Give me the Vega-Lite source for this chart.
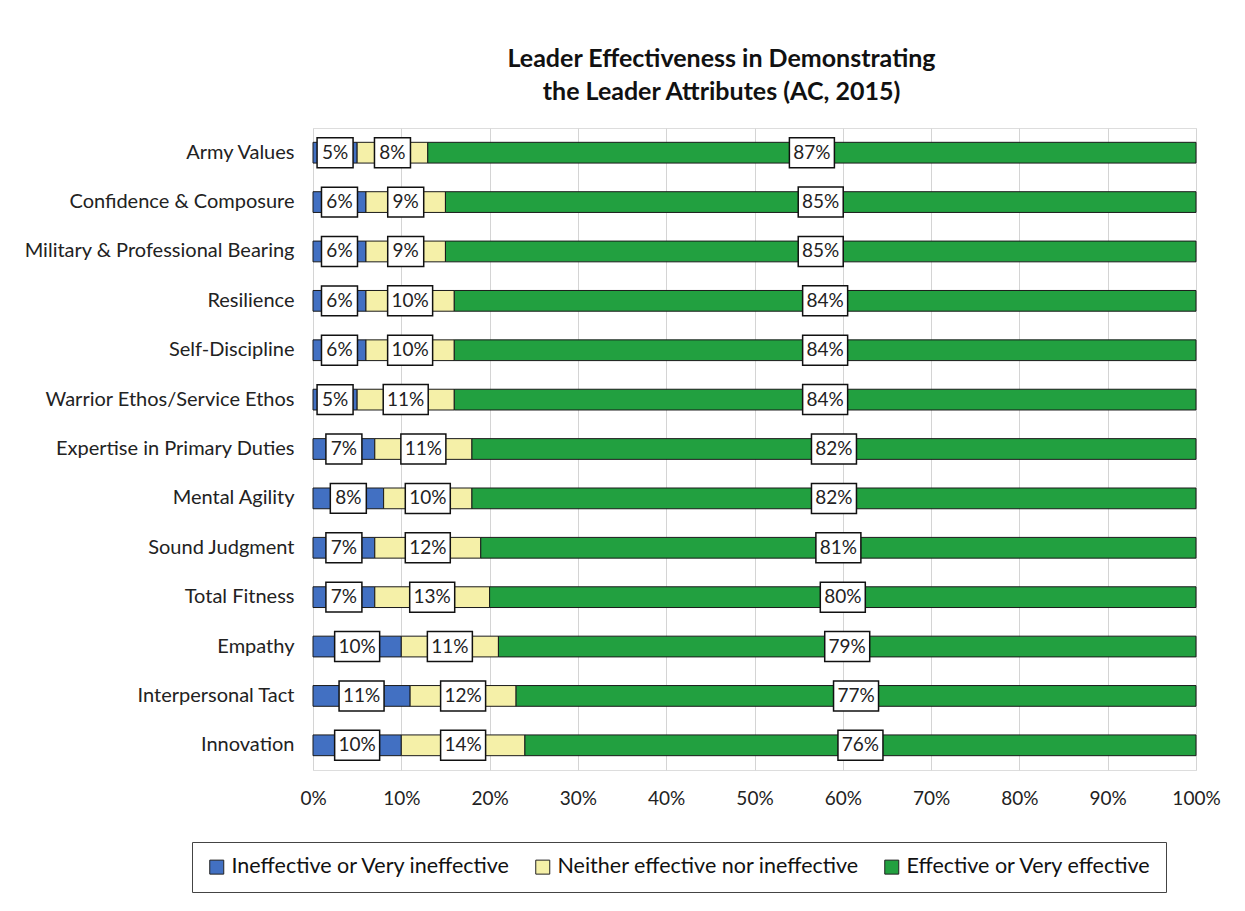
{
  "$schema": "https://vega.github.io/schema/vega-lite/v6.json",
  "width": 883,
  "height": 642,
  "autosize": {"type": "none"},
  "padding": {"left": 313, "top": 128, "right": 49, "bottom": 141},
  "background": "white",
  "title": {
    "text": ["Leader Effectiveness in Demonstrating", "the Leader Attributes (AC, 2015)"],
    "font": "Lato",
    "fontSize": 25,
    "fontWeight": "bold",
    "color": "#111111",
    "lineHeight": 33,
    "anchor": "middle",
    "dx": -33,
    "offset": 23
  },
  "data": {
    "values": [
      {"attr": "Army Values", "resp": "Ineffective or Very ineffective", "level": 1, "pct": 0.05},
      {"attr": "Army Values", "resp": "Neither effective nor ineffective", "level": 2, "pct": 0.08},
      {"attr": "Army Values", "resp": "Effective or Very effective", "level": 3, "pct": 0.87},
      {"attr": "Confidence & Composure", "resp": "Ineffective or Very ineffective", "level": 1, "pct": 0.06},
      {"attr": "Confidence & Composure", "resp": "Neither effective nor ineffective", "level": 2, "pct": 0.09},
      {"attr": "Confidence & Composure", "resp": "Effective or Very effective", "level": 3, "pct": 0.85},
      {"attr": "Military & Professional Bearing", "resp": "Ineffective or Very ineffective", "level": 1, "pct": 0.06},
      {"attr": "Military & Professional Bearing", "resp": "Neither effective nor ineffective", "level": 2, "pct": 0.09},
      {"attr": "Military & Professional Bearing", "resp": "Effective or Very effective", "level": 3, "pct": 0.85},
      {"attr": "Resilience", "resp": "Ineffective or Very ineffective", "level": 1, "pct": 0.06},
      {"attr": "Resilience", "resp": "Neither effective nor ineffective", "level": 2, "pct": 0.10},
      {"attr": "Resilience", "resp": "Effective or Very effective", "level": 3, "pct": 0.84},
      {"attr": "Self-Discipline", "resp": "Ineffective or Very ineffective", "level": 1, "pct": 0.06},
      {"attr": "Self-Discipline", "resp": "Neither effective nor ineffective", "level": 2, "pct": 0.10},
      {"attr": "Self-Discipline", "resp": "Effective or Very effective", "level": 3, "pct": 0.84},
      {"attr": "Warrior Ethos/Service Ethos", "resp": "Ineffective or Very ineffective", "level": 1, "pct": 0.05},
      {"attr": "Warrior Ethos/Service Ethos", "resp": "Neither effective nor ineffective", "level": 2, "pct": 0.11},
      {"attr": "Warrior Ethos/Service Ethos", "resp": "Effective or Very effective", "level": 3, "pct": 0.84},
      {"attr": "Expertise in Primary Duties", "resp": "Ineffective or Very ineffective", "level": 1, "pct": 0.07},
      {"attr": "Expertise in Primary Duties", "resp": "Neither effective nor ineffective", "level": 2, "pct": 0.11},
      {"attr": "Expertise in Primary Duties", "resp": "Effective or Very effective", "level": 3, "pct": 0.82},
      {"attr": "Mental Agility", "resp": "Ineffective or Very ineffective", "level": 1, "pct": 0.08},
      {"attr": "Mental Agility", "resp": "Neither effective nor ineffective", "level": 2, "pct": 0.10},
      {"attr": "Mental Agility", "resp": "Effective or Very effective", "level": 3, "pct": 0.82},
      {"attr": "Sound Judgment", "resp": "Ineffective or Very ineffective", "level": 1, "pct": 0.07},
      {"attr": "Sound Judgment", "resp": "Neither effective nor ineffective", "level": 2, "pct": 0.12},
      {"attr": "Sound Judgment", "resp": "Effective or Very effective", "level": 3, "pct": 0.81},
      {"attr": "Total Fitness", "resp": "Ineffective or Very ineffective", "level": 1, "pct": 0.07},
      {"attr": "Total Fitness", "resp": "Neither effective nor ineffective", "level": 2, "pct": 0.13},
      {"attr": "Total Fitness", "resp": "Effective or Very effective", "level": 3, "pct": 0.80},
      {"attr": "Empathy", "resp": "Ineffective or Very ineffective", "level": 1, "pct": 0.10},
      {"attr": "Empathy", "resp": "Neither effective nor ineffective", "level": 2, "pct": 0.11},
      {"attr": "Empathy", "resp": "Effective or Very effective", "level": 3, "pct": 0.79},
      {"attr": "Interpersonal Tact", "resp": "Ineffective or Very ineffective", "level": 1, "pct": 0.11},
      {"attr": "Interpersonal Tact", "resp": "Neither effective nor ineffective", "level": 2, "pct": 0.12},
      {"attr": "Interpersonal Tact", "resp": "Effective or Very effective", "level": 3, "pct": 0.77},
      {"attr": "Innovation", "resp": "Ineffective or Very ineffective", "level": 1, "pct": 0.10},
      {"attr": "Innovation", "resp": "Neither effective nor ineffective", "level": 2, "pct": 0.14},
      {"attr": "Innovation", "resp": "Effective or Very effective", "level": 3, "pct": 0.76}
    ]
  },
  "transform": [
    {"stack": "pct", "groupby": ["attr"], "sort": [{"field": "level", "order": "ascending"}], "as": ["x0", "x1"]},
    {"calculate": "(datum.x0 + datum.x1) / 2", "as": "mid"}
  ],
  "encoding": {
    "y": {
      "field": "attr",
      "type": "nominal",
      "sort": null,
      "scale": {"paddingInner": 0.58, "paddingOuter": 0.29},
      "axis": {
        "title": null,
        "domain": false,
        "ticks": false,
        "grid": false,
        "labelFont": "Lato",
        "labelFontSize": 20,
        "labelColor": "#222222",
        "labelPadding": 19,
        "labelLimit": 400
      }
    }
  },
  "layer": [
    {
      "mark": {"type": "bar", "stroke": "#1a1a1a", "strokeWidth": 1},
      "encoding": {
        "x": {
          "field": "x0",
          "type": "quantitative",
          "scale": {"domain": [0, 1]},
          "axis": {
            "title": null,
            "format": ".0%",
            "tickCount": 10,
            "domain": false,
            "ticks": false,
            "grid": true,
            "gridColor": "#d4d4d4",
            "gridWidth": 1,
            "labelFlush": false,
            "labelFont": "Lato",
            "labelFontSize": 19,
            "labelColor": "#222222",
            "labelPadding": 19
          }
        },
        "x2": {"field": "x1"},
        "color": {
          "field": "resp",
          "type": "nominal",
          "scale": {
            "domain": ["Ineffective or Very ineffective", "Neither effective nor ineffective", "Effective or Very effective"],
            "range": ["#4270c2", "#f5f0a8", "#22a040"]
          },
          "legend": {
            "title": null,
            "orient": "none",
            "legendX": -121,
            "legendY": 714,
            "direction": "horizontal",
            "symbolType": "square",
            "symbolSize": 196,
            "symbolStrokeColor": "#222222",
            "symbolStrokeWidth": 1,
            "labelFont": "Lato",
            "labelFontSize": 21.5,
            "labelColor": "#111111",
            "labelLimit": 400,
            "labelOffset": 4,
            "columnPadding": 21,
            "padding": 14,
            "strokeColor": "#444444",
            "fillColor": "white"
          }
        }
      }
    },
    {
      "transform": [{"filter": "datum.pct < 0.095"}],
      "mark": {"type": "point", "shape": "M-1,-0.83H1V0.83H-1Z", "size": 1296, "filled": true, "fill": "white", "stroke": "#111111", "strokeWidth": 1.5, "opacity": 1},
      "encoding": {"x": {"field": "mid", "type": "quantitative"}}
    },
    {
      "transform": [{"filter": "datum.pct >= 0.095"}],
      "mark": {"type": "point", "shape": "M-1,-0.667H1V0.667H-1Z", "size": 2025, "filled": true, "fill": "white", "stroke": "#111111", "strokeWidth": 1.5, "opacity": 1},
      "encoding": {"x": {"field": "mid", "type": "quantitative"}}
    },
    {
      "mark": {"type": "text", "font": "Lato", "fontSize": 19, "color": "#222222", "align": "center", "baseline": "middle"},
      "encoding": {
        "x": {"field": "mid", "type": "quantitative"},
        "text": {"field": "pct", "type": "quantitative", "format": ".0%"}
      }
    }
  ]
}
